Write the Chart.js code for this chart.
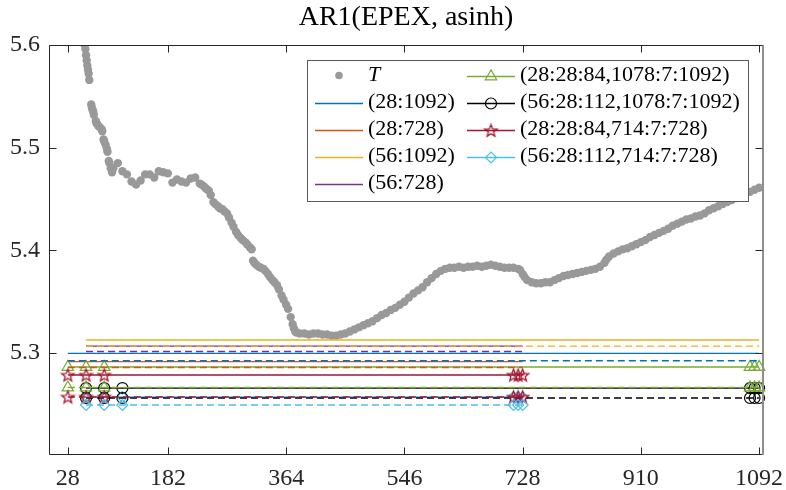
<!DOCTYPE html>
<html>
<head>
<meta charset="utf-8">
<script src="https://cdn.jsdelivr.net/npm/chart.js@4.4.1/dist/chart.umd.min.js"></script>
<style>
  html, body { margin: 0; padding: 0; background: #ffffff; }
  #wrap { width: 786px; height: 490px; }
</style>
</head>
<body>
<div id="wrap"><canvas id="c" width="786" height="490"></canvas></div>
<script>
// ---------------- DATA ----------------
const chartTitle = 'AR1(EPEX, asinh)';
const xTicks = [28, 182, 364, 546, 728, 910, 1092];
const yTicks = [5.3, 5.4, 5.5, 5.6];

// T series (gray dots)
const tDays = [54,55,56,57,58,59,60,61,64,65,66,67,68,71,72,73,75,77,80,81,83,84,86,88,89,91,92,94,96,
  98,105,112,119,126,133,140,147,154,161,168,175,182,189,196,203,210,217,224,231,234,238,241,245,248,252,255,
  259,262,266,269,273,276,280,283,287,290,294,297,301,304,308,311,313,315,318,322,325,329,332,336,339,343,346,
  350,353,357,360,364,367,371,374,376,378,380,385,392,399,406,413,420,427,434,441,448,455,
  462,469,476,483,490,497,504,511,518,525,532,539,546,553,560,567,574,581,588,595,602,609,616,623,630,637,
  644,651,658,665,672,679,686,693,700,707,714,721,724,728,731,735,742,749,756,763,770,777,784,791,798,805,812,819,
  826,833,840,847,854,857,861,868,875,882,889,896,903,910,917,924,931,938,945,952,959,966,973,980,987,994,1001,
  1008,1015,1022,1029,1036,1043,1050,1057,1064,1071,1078,1085,1092];
const tValues = [5.600,5.596,5.590,5.585,5.580,5.576,5.572,5.566,5.542,5.539,5.537,5.535,5.532,5.526,5.524,5.523,5.521,5.520,5.518,5.516,5.508,5.506,5.503,5.499,5.496,5.487,5.485,5.480,5.476,
  5.480,5.485,5.477,5.474,5.467,5.464,5.468,5.474,5.474,5.471,5.477,5.476,5.475,5.466,5.469,5.467,5.466,5.470,5.471,5.465,5.464,5.462,5.460,5.458,5.454,5.447,5.445,
  5.443,5.441,5.440,5.438,5.436,5.432,5.427,5.423,5.418,5.415,5.412,5.410,5.408,5.406,5.403,5.401,5.390,5.388,5.386,5.384,5.383,5.382,5.380,5.377,5.374,5.371,5.369,
  5.366,5.362,5.356,5.352,5.347,5.343,5.335,5.328,5.324,5.321,5.320,5.319,5.319,5.318,5.319,5.319,5.318,5.318,5.317,5.317,5.318,5.319,
  5.321,5.323,5.325,5.327,5.329,5.331,5.334,5.337,5.339,5.342,5.344,5.347,5.350,5.354,5.358,5.361,5.364,5.369,5.373,5.377,5.380,5.382,5.383,5.383,5.384,5.383,
  5.384,5.384,5.385,5.384,5.385,5.386,5.385,5.384,5.383,5.383,5.383,5.382,5.381,5.377,5.374,5.371,5.369,5.368,5.368,5.369,5.369,5.371,5.373,5.375,5.376,5.377,5.378,5.379,
  5.380,5.381,5.382,5.384,5.388,5.391,5.394,5.397,5.399,5.401,5.402,5.404,5.406,5.408,5.410,5.413,5.415,5.417,5.419,5.421,5.424,5.426,5.428,5.430,5.431,5.433,5.434,
  5.436,5.439,5.441,5.443,5.445,5.447,5.449,5.451,5.453,5.455,5.457,5.459,5.461];

// Horizontal reference series
const seriesLabels = ['(28:1092)', '(28:728)', '(56:1092)', '(56:728)',
  '(28:28:84,1078:7:1092)', '(56:28:112,1078:7:1092)', '(28:28:84,714:7:728)', '(56:28:112,714:7:728)'];
const seriesDays = [[28,1092],[28,728],[56,1092],[56,728],
  [28,56,84,1078,1085,1092],[56,84,112,1078,1085,1092],[28,56,84,714,721,728],[56,84,112,714,721,728]];
const solidLevels  = [5.2997, 5.2917, 5.3127, 5.3068, 5.2864, 5.2659, 5.2786, 5.2572];
const dashedLevels = [5.2925, 5.2859, 5.3068, 5.3015, 5.2664, 5.2562, 5.2572, 5.2494];
const seriesColors = ['#0072BD','#D95319','#EDB120','#7E2F8E','#77AC30','#000000','#A2142F','#4DBEEE'];
const seriesMarkers = ['none','none','none','none','triangle','circle','star','rectRot'];
const markerRadius = { triangle: 6.6, circle: 5.5, star: 6.5, rectRot: 5.5 };

// ---------------- HELPERS ----------------
const FONT = '"Liberation Serif", "Times New Roman", serif';
const LW = 1.35;
function makeStar(color, R) {
  const s = Math.ceil(2 * R + 4);
  const c = document.createElement('canvas');
  c.width = s; c.height = s;
  const g = c.getContext('2d');
  g.strokeStyle = color; g.lineWidth = 1.3;
  g.beginPath();
  const r = R * 0.42;
  for (let i = 0; i < 10; i++) {
    const a = -Math.PI / 2 + i * Math.PI / 5;
    const rr = (i % 2) ? r : R;
    const x = s / 2 + rr * Math.cos(a), y = s / 2 + rr * Math.sin(a) + 0.6;
    if (i) g.lineTo(x, y); else g.moveTo(x, y);
  }
  g.closePath(); g.stroke();
  return c;
}
function styleFor(i) {
  const m = seriesMarkers[i];
  if (m === 'none') return { pointStyle: 'circle', radius: 0 };
  if (m === 'star') return { pointStyle: makeStar(seriesColors[i], markerRadius.star), radius: markerRadius.star };
  return { pointStyle: m, radius: markerRadius[m] };
}

// ---------------- DATASETS ----------------
const datasets = [];
datasets.push({
  label: 'T',
  data: tDays.map((d, k) => ({ x: d, y: tValues[k] })),
  showLine: false,
  pointRadius: 4.2,
  pointBackgroundColor: '#999999',
  pointBorderWidth: 0,
  pointBorderColor: '#999999',
  pointStyle: 'circle'
});
for (let i = 0; i < seriesLabels.length; i++) {
  const st = styleFor(i);
  datasets.push({
    label: seriesLabels[i],
    data: seriesDays[i].map(d => ({ x: d, y: solidLevels[i] })),
    showLine: true, borderColor: seriesColors[i], borderWidth: LW, fill: false,
    pointStyle: st.pointStyle, pointRadius: st.radius,
    pointBorderColor: seriesColors[i], pointBackgroundColor: 'rgba(0,0,0,0)', pointBorderWidth: 1.2,
    clip: 8
  });
}
for (let i = 0; i < seriesLabels.length; i++) {
  const st = styleFor(i);
  datasets.push({
    label: seriesLabels[i] + ' dashed',
    data: seriesDays[i].map(d => ({ x: d, y: dashedLevels[i] })),
    showLine: true, borderColor: seriesColors[i], borderWidth: LW, borderDash: [7, 4], fill: false,
    pointStyle: st.pointStyle, pointRadius: st.radius,
    pointBorderColor: seriesColors[i], pointBackgroundColor: 'rgba(0,0,0,0)', pointBorderWidth: 1.2,
    clip: 8
  });
}
datasets.forEach((d, i) => { d.order = -i; });

// ---------------- PLUGINS ----------------
const axesBox = {
  id: 'axesBox',
  afterDatasetsDraw(chart) {
    const { ctx, chartArea: a, scales } = chart;
    const L = Math.round(a.left) + 0.5, R = Math.round(a.right) - 0.5;
    const T = Math.round(a.top) + 0.5, B = Math.round(a.bottom) - 0.5;
    ctx.save();
    ctx.lineWidth = 1;
    ctx.strokeStyle = '#262626';
    ctx.beginPath();
    ctx.moveTo(L, T); ctx.lineTo(R, T);
    ctx.moveTo(L, T); ctx.lineTo(L, B); ctx.lineTo(R, B);
    ctx.stroke();
    ctx.strokeStyle = '#8f8f8f'; ctx.lineWidth = 2;
    ctx.beginPath(); ctx.moveTo(R + 0.5, T - 0.5); ctx.lineTo(R + 0.5, B + 0.5); ctx.stroke();
    ctx.strokeStyle = '#262626'; ctx.lineWidth = 1;
    const tl = 7;
    ctx.beginPath();
    xTicks.forEach(v => {
      const px = Math.round(scales.x.getPixelForValue(v)) + 0.5;
      ctx.moveTo(px, B); ctx.lineTo(px, B - tl);
      ctx.moveTo(px, T); ctx.lineTo(px, T + tl);
    });
    yTicks.forEach(v => {
      const py = Math.round(scales.y.getPixelForValue(v)) + 0.5;
      ctx.moveTo(L, py); ctx.lineTo(L + tl, py);
      ctx.moveTo(R, py); ctx.lineTo(R - tl, py);
    });
    ctx.stroke();
    ctx.restore();
  }
};

function drawMarker(ctx, kind, color, x, y, starImg) {
  ctx.save();
  ctx.strokeStyle = color; ctx.lineWidth = 1.2;
  ctx.beginPath();
  if (kind === 'triangle') {
    const r = markerRadius.triangle;
    let rad = 0;
    ctx.moveTo(x + Math.sin(rad) * r, y - Math.cos(rad) * r);
    rad += 2 * Math.PI / 3; ctx.lineTo(x + Math.sin(rad) * r, y - Math.cos(rad) * r);
    rad += 2 * Math.PI / 3; ctx.lineTo(x + Math.sin(rad) * r, y - Math.cos(rad) * r);
    ctx.closePath(); ctx.stroke();
  } else if (kind === 'circle') {
    ctx.arc(x, y, markerRadius.circle, 0, 2 * Math.PI); ctx.stroke();
  } else if (kind === 'rectRot') {
    const r = markerRadius.rectRot;
    ctx.moveTo(x - r, y); ctx.lineTo(x, y - r); ctx.lineTo(x + r, y); ctx.lineTo(x, y + r);
    ctx.closePath(); ctx.stroke();
  } else if (kind === 'star') {
    ctx.drawImage(starImg, x - starImg.width / 2, y - starImg.height / 2);
  }
  ctx.restore();
}

const boxLegend = {
  id: 'boxLegend',
  afterDraw(chart) {
    const ctx = chart.ctx;
    const bx = 307, by = 60, bw = 442, bh = 142;
    ctx.save();
    ctx.fillStyle = '#ffffff';
    ctx.fillRect(bx, by, bw, bh);
    ctx.strokeStyle = '#5a5a5a'; ctx.lineWidth = 1;
    ctx.strokeRect(bx + 0.5, by + 0.5, bw - 1, bh - 1);
    const rowY = k => 75.5 + 27 * k;
    ctx.textBaseline = 'middle';
    // T entry
    ctx.beginPath(); ctx.fillStyle = '#999999';
    ctx.arc(339, rowY(0), 3.8, 0, 2 * Math.PI); ctx.fill();
    ctx.fillStyle = '#000000';
    ctx.font = 'italic 22px ' + FONT;
    ctx.fillText(chart.data.datasets[0].label, 368, rowY(0));
    ctx.font = '22px ' + FONT;
    for (let i = 0; i < seriesLabels.length; i++) {
      const col = i < 4 ? 0 : 1;
      const row = i < 4 ? i + 1 : i - 4;
      const x0 = col ? 467 : 315, x1 = col ? 515 : 363, tx = col ? 520 : 368;
      const y = Math.round(rowY(row)) + 0.5;
      ctx.strokeStyle = seriesColors[i]; ctx.lineWidth = LW;
      ctx.beginPath(); ctx.moveTo(x0, y); ctx.lineTo(x1, y); ctx.stroke();
      if (seriesMarkers[i] !== 'none') {
        const ds = chart.data.datasets[i + 1];
        drawMarker(ctx, seriesMarkers[i], seriesColors[i], (x0 + x1) / 2, y, ds.pointStyle);
      }
      ctx.fillStyle = '#000000';
      ctx.fillText(seriesLabels[i], tx, rowY(row));
    }
    ctx.restore();
  }
};

// ---------------- CHART ----------------
new Chart(document.getElementById('c'), {
  type: 'scatter',
  data: { datasets },
  options: {
    responsive: false,
    animation: false,
    devicePixelRatio: 1,
    layout: { padding: { left: 0, right: 23, top: 0, bottom: 0 } },
    plugins: {
      legend: { display: false },
      tooltip: { enabled: false },
      title: {
        display: true, text: chartTitle, color: '#000000', fullSize: false,
        font: { family: FONT, size: 28, weight: 'normal', lineHeight: 1.2 },
        padding: { top: 1, bottom: 10.4 }
      }
    },
    scales: {
      x: {
        type: 'linear', min: -1, max: 1098,
        afterBuildTicks: s => { s.ticks = xTicks.map(v => ({ value: v })); },
        afterFit: s => { s.height = 35; s.paddingLeft = 0; s.paddingRight = 0; },
        ticks: { font: { family: FONT, size: 24 }, color: '#262626', padding: 9, maxRotation: 0, autoSkip: false,
                 callback: v => String(v) },
        grid: { display: false, drawTicks: false, tickLength: 0 },
        border: { display: false }
      },
      y: {
        type: 'linear', min: 5.2007, max: 5.6,
        afterBuildTicks: s => { s.ticks = yTicks.map(v => ({ value: v })); },
        afterFit: s => { s.width = 49; s.paddingTop = 0; s.paddingBottom = 0; },
        ticks: { font: { family: FONT, size: 24 }, color: '#262626', padding: 9, autoSkip: false,
                 callback: v => Number(v).toFixed(1) },
        grid: { display: false, drawTicks: false, tickLength: 0 },
        border: { display: false }
      }
    }
  },
  plugins: [axesBox, boxLegend]
});
</script>
</body>
</html>
